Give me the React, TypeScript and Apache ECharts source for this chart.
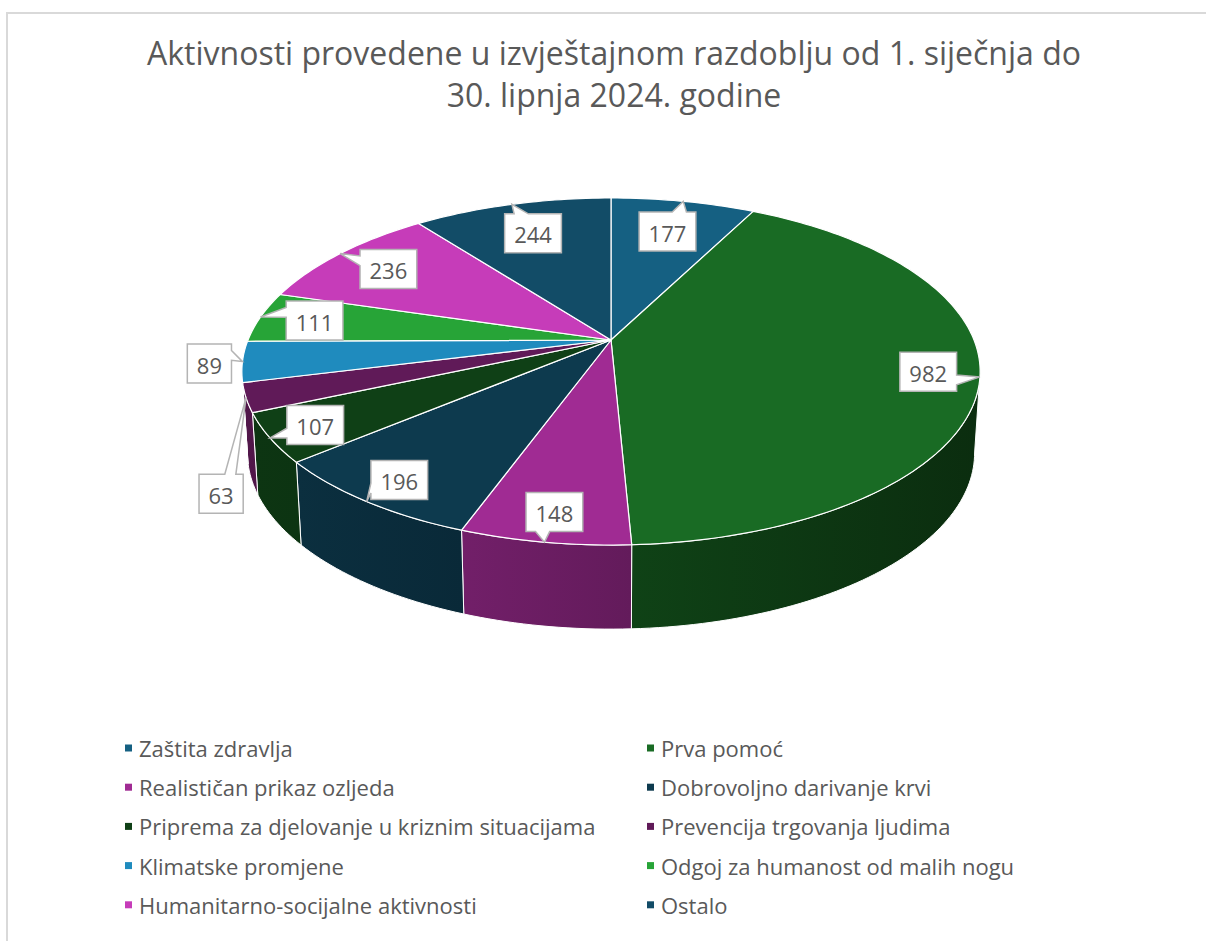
import React, { useEffect, useRef } from "react";
import * as echarts from "echarts";

// ---------------- data ----------------
const categories = [
  "Zaštita zdravlja",
  "Prva pomoć",
  "Realističan prikaz ozljeda",
  "Dobrovoljno darivanje krvi",
  "Priprema za djelovanje u kriznim situacijama",
  "Prevencija trgovanja ljudima",
  "Klimatske promjene",
  "Odgoj za humanost od malih nogu",
  "Humanitarno-socijalne aktivnosti",
  "Ostalo",
];
const values = [177, 982, 148, 196, 107, 63, 89, 111, 236, 244];
const colors = [
  "#156082",
  "#196B24",
  "#A02B93",
  "#0D3A4E",
  "#0F4016",
  "#601A58",
  "#1F8BBE",
  "#27A437",
  "#C63CB9",
  "#124C67",
];
const titleText =
  "Aktivnosti provedene u izvještajnom razdoblju od 1. siječnja do\n30. lipnja 2024. godine";

// ---------------- layout (3D pie projection) ----------------
const CX = 611;
const CY = 340;
const RX = 363;
const RY = 167.8;
const PERSP = 0.1816;
const DEPTH = 81;
const BOT_SX = 0.985;
const BOT_SY = 1.015;
const FONT = '"Open Sans", "Liberation Sans", sans-serif';
const TEXT_COLOR = "#595959";
// label nudges for collision avoidance (px), by category index
const labelNudge: Record<number, [number, number]> = { 5: [8, 91] };

const total = values.reduce((s, v) => s + v, 0);
const starts: number[] = [];
{
  let acc = 0;
  for (const v of values) {
    starts.push((acc / total) * 360);
    acc += v;
  }
}

function project(thetaDeg: number, r: number, bottom: boolean): [number, number] {
  const t = (thetaDeg * Math.PI) / 180;
  const X = r * Math.sin(t);
  const Z = -r * Math.cos(t);
  const w = 1 - PERSP * Z;
  if (!bottom) return [CX + (RX * X) / w, CY + (RY * Z) / w];
  return [CX + (RX * BOT_SX * X) / w, CY + DEPTH + (RY * BOT_SY * Z) / w];
}

function arc(a: number, b: number, bottom: boolean): [number, number][] {
  const n = Math.max(2, Math.ceil(Math.abs(b - a) / 1.2));
  const pts: [number, number][] = [];
  for (let k = 0; k <= n; k++) pts.push(project(a + ((b - a) * k) / n, 1, bottom));
  return pts;
}

function shade(hex: string, f: number): string {
  const n = parseInt(hex.slice(1), 16);
  const r = Math.round(((n >> 16) & 255) * f);
  const g = Math.round(((n >> 8) & 255) * f);
  const b = Math.round((n & 255) * f);
  return `rgb(${r},${g},${b})`;
}

const VIS0 = (Math.acos(-PERSP) * 180) / Math.PI;
const VIS1 = 360 - VIS0;
const LEFT_X = CX - RX * 1.017;
const SPAN_X = RX * 2.034;
function wallFactor(x: number) {
  return 0.84 - (0.42 * (x - LEFT_X)) / SPAN_X;
}

function calloutPoints(l: number, t: number, w: number, h: number, tx: number, ty: number) {
  const hc = l + w / 2;
  const vc = t + h / 2;
  const dx = tx - hc;
  const dy = ty - vc;
  const r = l + w;
  const b = t + h;
  const dz = Math.abs(dy) - Math.abs((dx * h) / w);
  const x1 = l + (w * (dx > 0 ? 7 : 2)) / 12;
  const x2 = l + (w * (dx > 0 ? 10 : 5)) / 12;
  const y1 = t + (h * (dy > 0 ? 7 : 2)) / 12;
  const y2 = t + (h * (dy > 0 ? 10 : 5)) / 12;
  const inside = tx >= l && tx <= r && ty >= t && ty <= b;
  const pts: [number, number][] = [[l, t]];
  if (!inside && dz > 0 && dy < 0) pts.push([x1, t], [tx, ty], [x2, t]);
  pts.push([r, t]);
  if (!inside && dz <= 0 && dx > 0) pts.push([r, y1], [tx, ty], [r, y2]);
  pts.push([r, b]);
  if (!inside && dz > 0 && dy > 0) pts.push([x2, b], [tx, ty], [x1, b]);
  pts.push([l, b]);
  if (!inside && dz <= 0 && dx < 0) pts.push([l, y2], [tx, ty], [l, y1]);
  return pts;
}

function renderSlice(params: any, api: any) {
  const i = params.seriesIndex;
  const v = api.value(0);
  const a0 = starts[i];
  const a1 = a0 + (v / total) * 360;
  const color = colors[i];
  const children: any[] = [];

  // side wall (visible front part)
  const va = Math.max(a0, VIS0);
  const vb = Math.min(a1, VIS1);
  if (vb > va) {
    const top = arc(va, vb, false);
    const bot = arc(va, vb, true).reverse();
    const xs = top.concat(bot).map((p) => p[0]);
    const xmin = Math.min(...xs);
    const xmax = Math.max(...xs);
    children.push({
      type: "polygon",
      z2: 10,
      shape: { points: top.concat(bot) },
      style: {
        fill: {
          type: "linear",
          x: 0,
          y: 0,
          x2: 1,
          y2: 0,
          colorStops: [
            { offset: 0, color: shade(color, wallFactor(xmin)) },
            { offset: 1, color: shade(color, wallFactor(xmax)) },
          ],
        },
        stroke: "#ffffff",
        lineWidth: 1,
        lineJoin: "round",
      },
    });
  }

  // top face
  children.push({
    type: "polygon",
    z2: 100,
    shape: { points: [[CX, CY] as [number, number]].concat(arc(a0, a1, false)) },
    style: { fill: color, stroke: "#ffffff", lineWidth: 1.2, lineJoin: "round" },
  });

  // data callout label
  const mid = (a0 + a1) / 2;
  const [ax, ay] = project(mid, 1, false);
  const frac = v / total;
  const txt = String(v);
  const bw = txt.length * 0.572 * 22 + 19;
  const bh = 39;
  let cx: number;
  let cy: number;
  if (frac >= 0.04) {
    const t = (mid * Math.PI) / 180;
    const xd = Math.sin(t);
    const zd = -Math.cos(t);
    const rl = 0.804 + 0.064 * zd + 0.048 * Math.abs(xd);
    [cx, cy] = project(mid, rl, false);
  } else {
    let ux = ax - CX;
    let uy = ay - CY;
    const len = Math.hypot(ux, uy) || 1;
    ux /= len;
    uy /= len;
    const d =
      Math.min(bw / 2 / Math.max(Math.abs(ux), 1e-6), bh / 2 / Math.max(Math.abs(uy), 1e-6)) + 11;
    cx = ax + ux * d;
    cy = ay + uy * d;
  }
  const nudge = labelNudge[i];
  if (nudge) {
    cx += nudge[0];
    cy += nudge[1];
  }
  const l = cx - bw / 2;
  const t = cy - bh / 2;
  children.push({
    type: "polygon",
    z2: 200,
    shape: { points: calloutPoints(l, t, bw, bh, ax, ay) },
    style: { fill: "#ffffff", stroke: "#b4b4b4", lineWidth: 1.5, lineJoin: "miter" },
  });
  children.push({
    type: "text",
    z2: 201,
    style: {
      text: txt,
      x: cx,
      y: cy + 1,
      align: "center",
      verticalAlign: "middle",
      fill: TEXT_COLOR,
      fontSize: 22,
      fontFamily: FONT,
    },
  });

  return { type: "group", children };
}

export default function App() {
  const ref = useRef<HTMLDivElement>(null);
  useEffect(() => {
    if (!ref.current) return;
    const chart = echarts.init(ref.current, undefined, { renderer: "svg" });
    const legendText = {
      color: TEXT_COLOR,
      fontSize: 22,
      fontFamily: FONT,
      lineHeight: 20,
      padding: [0, 0, 0, 2],
    };
    chart.setOption({
      animation: false,
      backgroundColor: "#ffffff",
      color: colors,
      title: {
        text: titleText,
        left: 614,
        top: 31,
        padding: 0,
        textAlign: "center",
        textStyle: {
          fontFamily: FONT,
          fontSize: 32,
          fontWeight: "normal",
          color: TEXT_COLOR,
          lineHeight: 42,
        },
      },
      legend: [
        {
          orient: "vertical",
          left: 125,
          top: 737,
          padding: 0,
          itemWidth: 7,
          itemHeight: 7,
          itemGap: 17.2,
          icon: "rect",
          selectedMode: false,
          data: categories.filter((_, k) => k % 2 === 0),
          textStyle: legendText,
        },
        {
          orient: "vertical",
          left: 647,
          top: 737,
          padding: 0,
          itemWidth: 7,
          itemHeight: 7,
          itemGap: 17.2,
          icon: "rect",
          selectedMode: false,
          data: categories.filter((_, k) => k % 2 === 1),
          textStyle: legendText,
        },
      ],
      graphic: [
        {
          type: "rect",
          silent: true,
          shape: { x: 7, y: 13, width: 1400, height: 1200 },
          style: { fill: "none", stroke: "#d9d9d9", lineWidth: 2 },
        },
      ],
      series: categories.map((name, k) => ({
        type: "custom",
        name,
        coordinateSystem: "none",
        itemStyle: { color: colors[k] },
        data: [[values[k]]],
        renderItem: renderSlice,
        silent: true,
      })),
    });
    return () => chart.dispose();
  }, []);
  return (
    <div
      ref={ref}
      style={{ position: "fixed", left: 0, top: 0, width: 1206, height: 941, background: "#fff" }}
    />
  );
}
